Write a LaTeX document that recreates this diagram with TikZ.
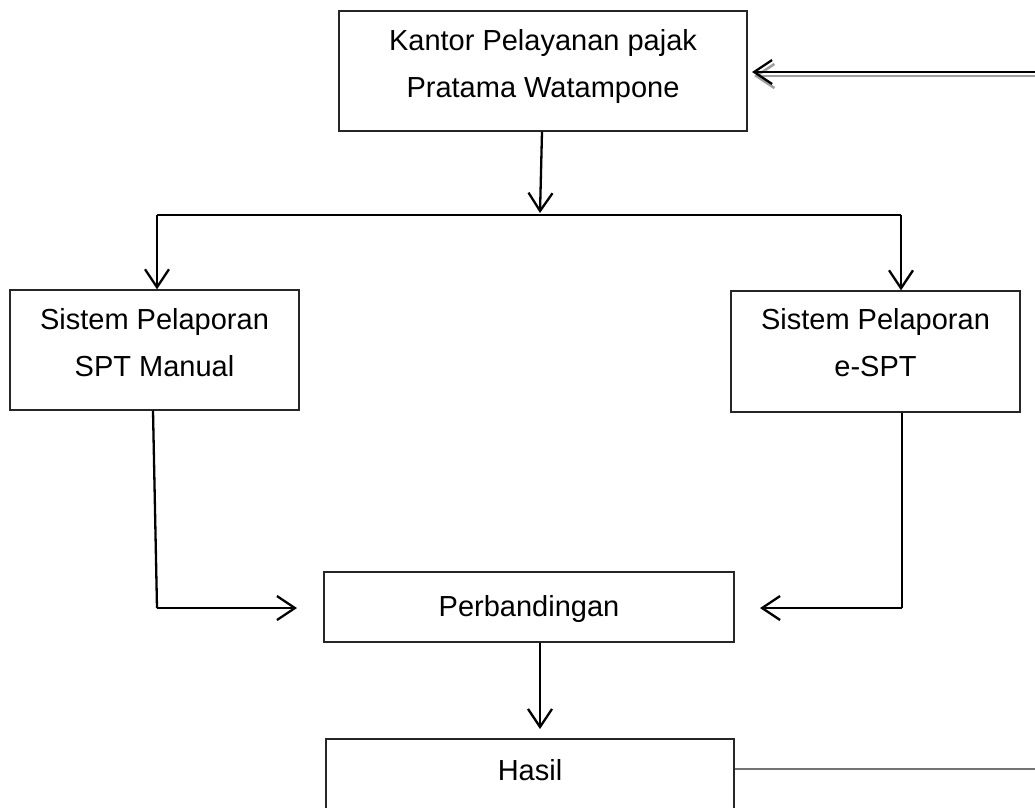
\documentclass[tikz,border=0pt]{standalone}
\usepackage{fontspec}
\setmainfont{Liberation Sans}
\usetikzlibrary{arrows.meta}
\begin{document}
\begin{tikzpicture}[x=1pt,y=1pt,
  box/.style={draw=black!85,line width=1.3pt,minimum width=#1,inner sep=0pt},
  txt/.style={align=center,font=\fontsize{29}{47}\selectfont,inner sep=0pt},
  conn/.style={line width=2.3pt,black},
  tip/.style={-{Straight Barb[length=18pt,width=24pt,line width=2.3pt]}},
  arr/.style={conn,tip}]
\clip (0,0) rectangle (1035,-807);
\useasboundingbox (0,0) rectangle (1035,-807);
% boxes
\node[box=408pt,minimum height=120pt] (kpp) at (543,-71) {};
\node[txt] (kppt) at (543,-66.5) {Kantor Pelayanan pajak\\Pratama Watampone};
\node[box=289pt,minimum height=120pt] (man) at (154.5,-350) {};
\node[txt] (mant) at (154.5,-343) {Sistem Pelaporan\\SPT Manual};
\node[box=289pt,minimum height=121pt] (esp) at (875.5,-351.5) {};
\node[txt] (espt) at (875.5,-343) {Sistem Pelaporan\\e-SPT};
\node[box=410pt,minimum height=70pt] (per) at (529,-607) {};
\node[txt] (pert) at (529,-609) {Perbandingan};
\node[box=408pt,minimum height=100pt] (has) at (530,-789) {};
\node[txt] (hast) at (530,-770) {Hasil};
% coordinates
\coordinate (split) at (540,-213);
\coordinate (bl) at (157,-215);
\coordinate (br) at (901,-215);
\coordinate (lc) at (157,-608);
\coordinate (rc) at (902,-608);
\coordinate (lin) at (297,-608);
\coordinate (rin) at (760,-608);
\coordinate (hin) at (540,-729);
\coordinate (rightin) at (1036,-72);
\coordinate (kin) at (752,-72);
\coordinate (rightsh) at (1036,-76);
\coordinate (kinsh) at (754,-76);
\coordinate (hout) at (1036,-769);
% connectors
\draw[arr] (kpp.south -| 542,0) -- (split);
\draw[conn,line width=2.8pt] (bl) -- (br);
\draw[arr] (bl) -- (bl |- man.north);
\draw[arr] (br) -- (br |- esp.north);
\draw[conn] (man.south -| 153,0) -- (lc);
\draw[arr] (lc) -- (lin);
\draw[conn] (esp.south -| rc) -- (rc);
\draw[arr] (rc) -- (rin);
\draw[arr] (per.south -| hin) -- (hin);
\draw[line width=1.6pt,black!55] (has.east |- hout) -- (hout);
% double arrow into top box (grey shadow, then black)
\draw[line width=2.6pt,black!38,-{Straight Barb[length=18pt,width=24pt,line width=2.6pt]}] (rightsh) -- (kinsh);
\draw[arr,line width=2.6pt] (rightin) -- (kin);
\end{tikzpicture}
\end{document}
